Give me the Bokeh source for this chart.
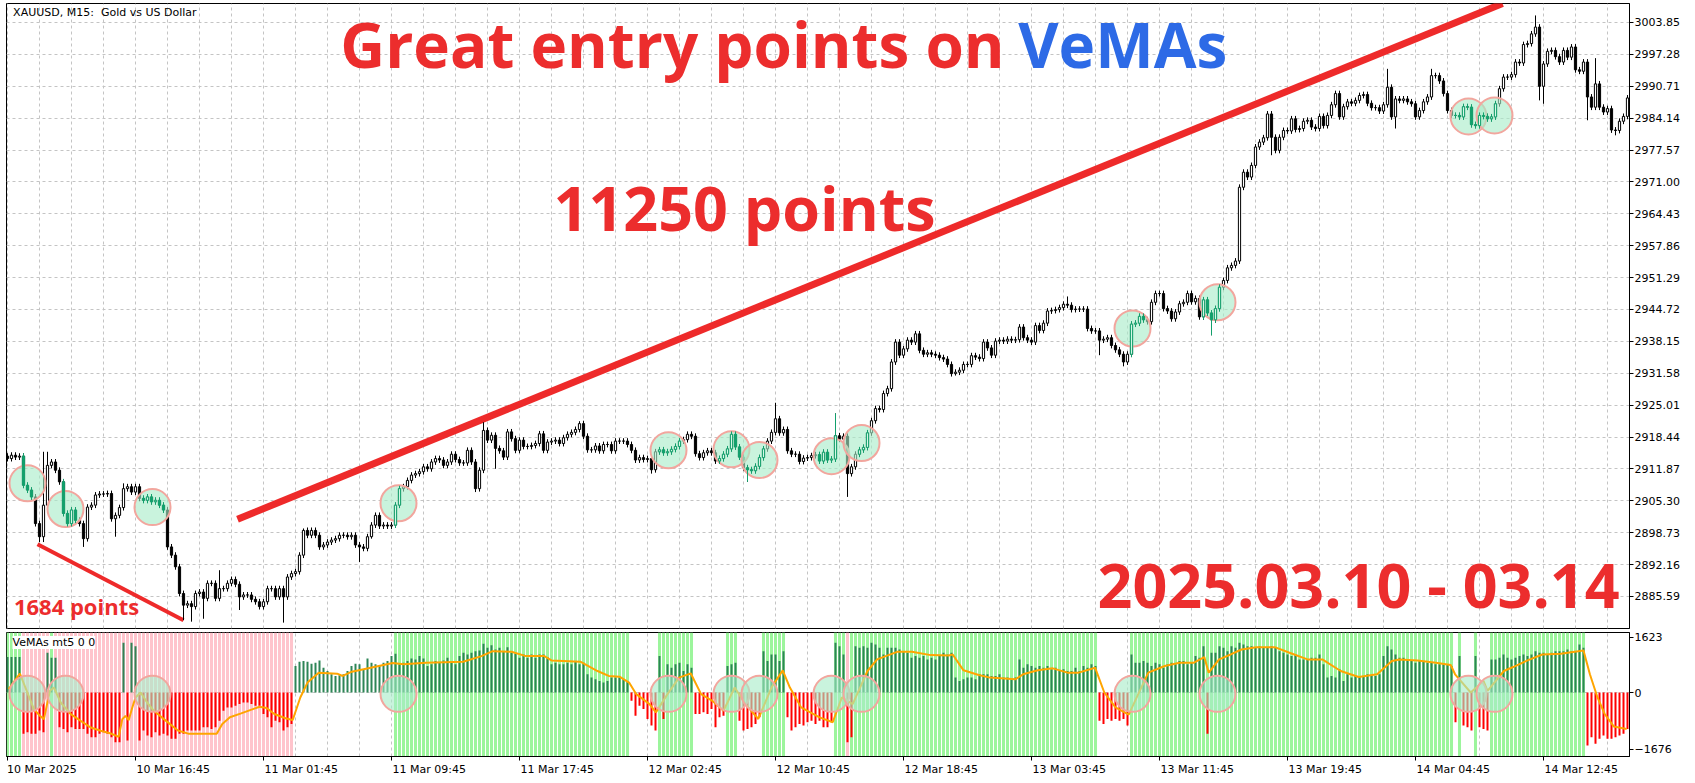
from bokeh.plotting import figure
from bokeh.models import Range1d, FixedTicker, PrintfTickFormatter, Label
from bokeh.layouts import column
from bokeh.embed import file_html
from bokeh.resources import INLINE

# ---------------- data ----------------
first_open = 2914.5
closes = [
    2914.0, 2914.7, 2914.3, 2914.5, 2908.5, 2907.5, 2906.1, 2900.6, 2897.9, 2904.4,
    2912.6, 2913.3, 2911.6, 2909.2, 2902.7, 2900.6, 2903.4, 2901.3, 2900.6, 2897.5,
    2904.0, 2904.4, 2906.5, 2906.7, 2906.7, 2906.8, 2901.6, 2902.3, 2903.9, 2907.8,
    2908.2, 2907.1, 2908.2, 2905.8, 2905.4, 2906.1, 2905.1, 2905.4, 2904.4, 2903.4,
    2895.8, 2894.1, 2891.7, 2886.2, 2883.8, 2884.1, 2883.5, 2886.2, 2886.5, 2885.2,
    2888.3, 2888.3, 2885.2, 2887.2, 2887.2, 2888.3, 2889.1, 2888.1, 2885.5, 2885.9,
    2885.9, 2885.0, 2884.5, 2883.5, 2884.5, 2887.2, 2887.2, 2885.5, 2887.2, 2885.5,
    2889.6, 2890.3, 2890.7, 2894.1, 2899.2, 2898.2, 2899.2, 2898.2, 2895.8, 2896.2,
    2896.8, 2897.2, 2897.5, 2898.2, 2898.2, 2897.9, 2898.2, 2896.2, 2895.8, 2895.5,
    2897.9, 2900.3, 2902.3, 2900.1, 2900.3, 2900.1, 2900.3, 2904.4, 2907.8, 2908.2,
    2909.5, 2910.6, 2910.9, 2911.3, 2912.3, 2911.9, 2913.3, 2914.0, 2913.7, 2912.6,
    2913.3,
    2914.9, 2913.8, 2913.1, 2913.1, 2915.7, 2913.3, 2907.8, 2911.6, 2919.8, 2917.8,
    2918.8, 2916.1, 2915.6, 2914.3, 2919.5, 2918.1, 2915.7, 2917.8, 2916.5, 2916.5,
    2916.7, 2917.1, 2919.1, 2915.7, 2917.4, 2917.6, 2917.8, 2917.1, 2918.3, 2919.0,
    2919.4, 2920.0, 2921.2, 2918.6, 2915.8, 2915.8, 2916.6, 2915.6, 2916.9, 2916.9,
    2915.6, 2917.6, 2917.6, 2917.6, 2916.9, 2915.7, 2913.7, 2914.2, 2913.8, 2914.0,
    2911.7, 2915.4, 2915.8, 2915.2, 2915.4, 2915.9, 2916.5, 2917.6, 2917.9, 2919.0,
    2918.6, 2915.0, 2914.2, 2915.2, 2915.6, 2915.2, 2913.5, 2914.0, 2914.9, 2916.0,
    2919.0, 2916.4, 2914.3, 2912.1, 2911.7, 2911.5, 2912.4, 2914.2, 2916.0, 2917.6,
    2919.4, 2922.2, 2919.3, 2920.0, 2915.6, 2914.9, 2914.9, 2913.4, 2914.1, 2914.2,
    2914.6, 2914.8, 2913.5, 2915.3, 2913.7, 2913.9, 2918.7, 2918.0, 2918.6, 2910.9,
    2912.3, 2914.9, 2915.8, 2916.3, 2919.3, 2921.8, 2924.3, 2924.1,
    2927.4, 2928.4, 2933.9, 2938.0,
    2935.3, 2936.6, 2938.4, 2938.0, 2939.7, 2936.3, 2935.5, 2935.8, 2935.5, 2935.3,
    2934.8, 2934.5, 2933.4, 2931.5, 2931.8, 2932.2, 2933.4, 2933.4, 2935.2, 2934.9,
    2934.6, 2938.0, 2936.8, 2935.3, 2938.2, 2938.4, 2938.2, 2938.6, 2938.4, 2938.5,
    2941.1, 2938.9, 2938.4, 2938.0, 2941.4, 2940.4, 2941.9, 2944.4, 2944.5, 2944.7,
    2945.1, 2945.8, 2945.6, 2944.7, 2944.8, 2944.8, 2944.8, 2940.8, 2940.3, 2940.3,
    2938.4, 2938.6, 2938.9, 2937.3, 2936.4, 2935.5, 2933.9, 2935.5, 2941.7, 2941.9,
    2943.3, 2942.6, 2942.2, 2946.2, 2948.0, 2948.0, 2944.9, 2944.4, 2942.8, 2944.2,
    2945.9, 2946.2, 2948.0, 2946.3, 2947.0, 2943.2, 2946.7, 2944.0, 2942.6, 2944.9,
    2949.3, 2950.7, 2953.3, 2953.8, 2954.7,
    2969.9, 2973.0, 2972.0, 2974.4, 2978.2, 2979.2, 2980.1, 2985.0, 2980.2, 2977.5,
    2980.2, 2981.6, 2981.5, 2984.0, 2981.8, 2982.0, 2983.5, 2983.7, 2982.3, 2982.0,
    2984.5, 2982.6, 2984.7, 2986.9, 2989.2, 2984.4, 2986.5, 2987.5, 2987.2, 2987.8,
    2988.8, 2989.0, 2987.2, 2986.3, 2986.3, 2985.6, 2986.9, 2990.5, 2984.4, 2988.1,
    2987.8, 2988.1, 2987.5, 2987.1, 2984.4, 2985.7, 2987.5, 2988.5, 2992.9, 2992.9,
    2991.8, 2989.2, 2985.7, 2984.7, 2984.7, 2984.4, 2986.5, 2986.4, 2982.8, 2982.6,
    2984.7, 2984.5, 2984.0, 2984.4, 2987.1, 2990.2, 2992.6, 2992.6, 2993.1, 2995.7,
    2995.5, 2999.3, 2999.5, 3001.5, 3002.9, 2990.7, 2995.3, 2997.9, 2998.1, 2996.8,
    2995.7, 2998.1, 2996.7, 2998.8, 2994.1, 2993.8, 2995.7, 2988.5, 2986.4, 2991.2, 2986.4,
    2985.4, 2986.1, 2981.7, 2981.6, 2983.5, 2984.5, 2988.3,
]
spike_high = {9: 2915.4, 10: 2915.4, 29: 2908.9, 53: 2891.0, 74: 2899.6, 119: 2921.5,
              143: 2921.7, 192: 2925.5, 207: 2923.3, 265: 2947.4, 333: 2989.8,
              345: 2994.3, 356: 2994.3, 382: 3005.3, 397: 2996.5}
spike_low = {8: 2896.8, 9: 2896.8, 19: 2895.8, 27: 2897.9, 44: 2880.7, 46: 2880.4,
             49: 2881.0, 58: 2882.8, 69: 2880.2, 88: 2892.7, 91: 2897.5, 117: 2907.1,
             122: 2911.9, 161: 2910.9, 185: 2909.2, 210: 2906.1, 237: 2931.1,
             273: 2935.3, 279: 2933.0, 301: 2939.4, 316: 2976.5, 347: 2982.0,
             383: 2987.8, 384: 2987.1, 395: 2983.7, 402: 2980.6}

price_ticks = [3003.85, 2997.28, 2990.71, 2984.14, 2977.57, 2971.00, 2964.43, 2957.86,
               2951.29, 2944.72, 2938.15, 2931.58, 2925.01, 2918.44, 2911.87, 2905.30,
               2898.73, 2892.16, 2885.59]
ind_ticks = [1623, 0, -1676]
time_labels = ["10 Mar 2025", "10 Mar 16:45", "11 Mar 01:45", "11 Mar 09:45",
               "11 Mar 17:45", "12 Mar 02:45", "12 Mar 10:45", "12 Mar 18:45",
               "13 Mar 03:45", "13 Mar 11:45", "13 Mar 19:45", "14 Mar 04:45",
               "14 Mar 12:45"]

# VeMAs histogram (one value per bar)
hist = [
    1044,
    1044, 1044, 1044, -1220, -1171, -1220, -1220, -1122, -1171, 1171, 1025, 1025,
    -1025, -1074, -1171, -1025, -1074, -1074, -1074, -1220, -1318, -1318, -1220, -1171,
    -1220, -1318, -1464, -1464,
    1464, -1415, 1464, 1366,
    -1415, -1122, -1269, -1318, -1171, -1269, -1220, -1269, -1366, -1366, -1220, -1220,
    -1122, -1122, -1122, -1122, -1025, -1025, -1074, -1025,
    -830, -537, -439, -439, -390, -342, -293, -293, -342, -390, -390, -634, -732, -1025,
    -830, -878, -1122, -1025, -927,
    781, 908, 927, 908, 849, 878, 947, 732, 634, 537, 488, 508, 537, 634, 781, 849, 830,
    683, 1005, 878, 830, 781, 878, 927, 1074, 1142, 830, 878, 927, 1005, 976, 1074, 1005,
    781, 830, 927, 878, 947, 1025, 878, 830, 1074, 1171, 1122, 1171, 1220, 1240, 1435,
    1318, 1396, 1269, 1318, 1220, 1337, 1171, 1142, 1025, 1122, 1025, 1122, 1025, 1122,
    1122, 1044, 830, 878, 830, 830, 878, 830, 927, 830,
    878, 537, 439, 390, 342, 293, 342, 439, 439, 439, 390, 342,
    -244, -683, -390, -488, -781, -976, -1122,
    1074, -781, 830, 732, 830, 878, 634, 830, 732,
    -634, -634, -586, -634, -488, -1025, -732, -683,
    781, 830, 878,
    -830, -1122, -1074, -1025, -927, -732,
    1220, 927, 1122, 1122, 927, 1220,
    -732, -1122, -1025, -927, -976, -878, -830, -927, -830, -1025, -1025, -878,
    1464, 1366, 1122,
    -1464, -1318,
    1366, 1318, 1366, 1318, 1464, 1415, 1318, 1122, 1318, 1318, 1318, 1269, 1220, 1171,
    1025, 1074, 1025, 1074, 976, 1025, 976, 1074, 1171, 1122, 1171,
    439, 342, 390, 439, 439, 390, 537, 537, 537, 488, 488, 537, 439, 439, 390, 439, 976,
    732, 830, 781, 732, 781, 732, 781, 683, 732, 634, 683, 634, 634, 732, 634, 781, 732,
    830, 781,
    -830, -927, -781, -830, -781, -830, -781, -976,
    1122, 878, 878, 927, 878, 781, 878, 830, 732, 830, 878, 830, 927, 927, 830, 878, 1074,
    1025, 1366,
    -1220,
    1171, 1171, 1366, 1318, 1220, 1366, 1318, 1464, 1415, 1366, 1366, 1318, 1366, 1318,
    1318, 1366, 1318, 1220, 1171, 1122, 1074, 1122, 976, 976, 976, 1025, 1025, 1122, 830,
    439, 488, 439, 683, 342, 537, 439, 488, 488, 488, 537, 488, 488, 537, 1074, 1366, 1269,
    1122, 1025, 1025, 976, 927, 878, 927, 927, 878, 878, 830, 830, 830, 830, 781,
    -878, 1074, -976, -1025, -1122, 1074, -1025, -1074, -1122,
    976, 976, 1025, 1122, 1025, 976, 1025, 1074, 1122, 1074, 1122, 1220, 1171, 1171, 1122,
    1171, 1220, 1220, 1220, 1269, 1220, 1220, 1415, 1318,
    -1562, -1318, -1513, -1366, -1269, -1366, -1366, -1318, -1269, -1220, -1074,
]

# orange signal line vertices (bar, value)
orange_bars = [0.3, 3.1, 6.6, 8.1, 9.1, 10.6, 11.6, 13.3, 15.8, 18.3, 20.8, 23.3, 25.8,
               27.8, 28.7, 29.5, 30.3, 31.2, 32.0, 33.3, 34.9, 36.6, 39.1, 42.6, 45.4,
               52.3, 53.7, 55.6, 58.4, 63.0, 64.8, 66.7, 69.5, 71.3, 73.2, 75.0, 77.8,
               82.4, 83.8, 86.1, 90.8, 96.3, 99.0, 104.6, 113.9, 118.5, 121.3, 126.0,
               129.6, 134.2, 136.0, 143.2, 147.5, 150.3, 153.0, 155.4, 157.2, 160.5,
               162.1, 165.0, 167.9, 170.8, 173.4, 176.2, 179.0, 181.8, 184.5, 187.7,
               191.0, 193.8, 195.6, 198.4, 203.0, 206.3, 208.6, 211.3, 215.0, 217.4,
               222.4, 226.1, 230.8, 235.3, 236.3, 239.0, 242.8, 245.6, 252.0, 253.9,
               257.6, 261.3, 265.0, 267.8, 271.9, 274.2, 277.0, 280.3, 285.2, 289.3,
               293.0, 296.6, 299.2, 300.3, 302.9, 305.8, 308.5, 312.2, 316.8, 320.5,
               325.0, 328.7, 333.3, 337.8, 342.4, 346.1, 348.0, 352.5, 357.1, 360.8,
               361.9, 365.8, 369.0, 370.0, 374.1, 376.4, 380.0, 383.7, 388.3, 394.0,
               395.6, 397.5, 399.3, 401.6, 404.8]
orange_vals = [98, 560, -492, -688, -786, 49, 147, -295, -639, -836, -1032, -1130, -1209,
               -1307, -786, -688, -816, -442, -147, 0, -295, -541, -786, -1122, -1220,
               -1220, -927, -732, -615, -420, -459, -634, -761, -810, -146, 293, 586,
               556, 488, 615, 732, 869, 830, 878, 908, 1074, 1220, 1200,
               1074, 1074, 947, 908, 634, 488, 468, 293, -49, -342,
               -586, -49, 439, 566, -49, -244, -537, 146, -342, -781,
               146, 654, 146, -439, -732, -878, -146, -342, 634, 976,
               1200, 1200, 1103, 1093, 1122, 654, 517, 439, 390, 537,
               654, 712, 586, 586, 732, 0, -439, -654, 586, 781,
               878, 878, 1044, 586, 976, 1122, 1269, 1337, 1337, 1171,
               976, 976, 634, 459, 537, 927, 976, 947, 878, 810,
               537, 0, 342, 49, 634, 751, 947, 1122, 1142, 1240,
               537, -146, -634, -1005, -1074]

# background shading of the indicator (inclusive bar spans)
green_bg_spans = [(0, 3), (11, 11), (97, 155), (163, 171), (180, 182), (189, 194),
                  (207, 209), (211, 272), (281, 361), (363, 363), (367, 367), (371, 394)]
pink_bg_spans = [(4, 10), (12, 71), (210, 210)]

# highlighted entry points (bar, price)
circle_bars = [5, 14.5, 36.25, 97.75, 165.25, 181, 188, 206, 213.5, 281.25, 302.5,
               365.25, 371.75]
circle_prices = [2908.9, 2903.6, 2904.0, 2904.8, 2915.7, 2915.9, 2913.7, 2914.5, 2917.2,
                 2940.8, 2946.2, 2984.5, 2984.7]

# ---------------- derived OHLC ----------------
n = len(closes)
idx = list(range(n))
opens = [first_open] + closes[:-1]
highs = [spike_high.get(i, max(opens[i], closes[i]) + 0.6) for i in idx]
lows = [spike_low.get(i, min(opens[i], closes[i]) - 0.6) for i in idx]
tops = [max(o, c) for o, c in zip(opens, closes)]
bots = [min(o, c) for o, c in zip(opens, closes)]
bull = [c >= o for o, c in zip(opens, closes)]

PX_BAR, PX_PRICE, R_IN = 4.0, 4.856, 16.0
inside = []
for i in idx:
    mid = (opens[i] + closes[i]) / 2
    hit = any(((i - cb) * PX_BAR) ** 2 + ((mid - cp) * PX_PRICE) ** 2 <= R_IN ** 2
              for cb, cp in zip(circle_bars, circle_prices))
    inside.append(hit)

W = 1690
GRID = "#c4c4c4"
RED = "#ec2d2d"
FONT = "DejaVu Sans"
X_RANGE = Range1d(-0.25, 405.5)

# ---------------- main price panel ----------------
p1 = figure(width=W, height=631, x_range=X_RANGE,
            y_range=Range1d(2878.99, 3007.76), output_backend="svg",
            toolbar_location=None, x_axis_location=None, y_axis_location="right",
            min_border_left=6, min_border_right=61, min_border_top=3, min_border_bottom=3)
p1.outline_line_color = "black"
p1.background_fill_color = "white"
p1.border_fill_color = "white"
p1.xgrid.ticker = FixedTicker(ticks=list(range(0, 406, 8)))
p1.ygrid.ticker = FixedTicker(ticks=price_ticks)
for g in (p1.xgrid, p1.ygrid):
    g.grid_line_color = GRID
    g.grid_line_dash = "3 3"
ax = p1.yaxis[0]
ax.ticker = FixedTicker(ticks=price_ticks)
ax.formatter = PrintfTickFormatter(format="%.2f")
ax.major_tick_in = 0
ax.major_tick_out = 4
ax.minor_tick_out = 0
ax.minor_tick_in = 0
ax.major_label_standoff = 1
ax.major_label_text_font = FONT
ax.major_label_text_font_size = "11px"
ax.major_label_text_color = "black"
ax.axis_line_color = "black"
ax.major_tick_line_color = "black"

# trend lines
p1.line([57.5, 373.75], [2901.5, 3007.76], color="#ee2a2a", line_width=7)
p1.line([7.5, 44], [2896.35, 2880.7], color="#ee2a2a", line_width=4)

# candles
p1.segment(x0=idx, y0=lows, x1=idx, y1=highs, color="black", line_width=1)
p1.vbar(x=idx, width=0.55, top=tops, bottom=bots,
        fill_color=["white" if b else "black" for b in bull],
        line_color="black", line_width=1)

# entry circles
p1.scatter(x=circle_bars, y=circle_prices, size=36, marker="circle",
           fill_color="#a8ecc8", fill_alpha=0.62, line_color="#f2a69e", line_width=2)
gi = [i for i in idx if inside[i]]
GREEN_C = "#12a06c"
p1.segment(x0=gi, y0=[lows[i] for i in gi], x1=gi, y1=[highs[i] for i in gi],
           color=GREEN_C, line_width=1)
p1.vbar(x=gi, width=0.55, top=[tops[i] for i in gi], bottom=[bots[i] for i in gi],
        fill_color=["#d4f7e6" if bull[i] else GREEN_C for i in gi],
        line_color=GREEN_C, line_width=1)

# texts (text_baseline middle; y is the visual centre of the em box)
def add_text(x, y, text, size, color, font="Open Sans", style="bold"):
    p1.add_layout(Label(x=x, y=y, text=text, text_font=font, text_font_style=style,
                        text_font_size=size, text_color=color, text_baseline="middle"))

add_text(1.4, 3005.9, "XAUUSD, M15:\u00a0 Gold vs US Dollar", "11px", "black", FONT, "normal")
add_text(83.2, 2999.4, "Great entry points on ", "62px", RED)
add_text(252.7, 2999.4, "VeMAs", "62px", "#2d6ae6")
add_text(136.5, 2965.7, "11250 points", "61px", RED)
add_text(272.5, 2888.0, "2025.03.10 - 03.14", "61px", RED)
add_text(1.6, 2883.6, "1684 points", "22px", RED)

# ---------------- indicator panel ----------------
p2 = figure(width=W, height=149, x_range=X_RANGE, y_range=Range1d(-1888, 1770),
            output_backend="svg", toolbar_location=None, y_axis_location="right",
            min_border_left=6, min_border_right=61, min_border_top=1, min_border_bottom=24)
p2.outline_line_color = "black"
p2.xgrid.ticker = FixedTicker(ticks=list(range(0, 406, 8)))
p2.ygrid.ticker = FixedTicker(ticks=[0])
for g in (p2.xgrid, p2.ygrid):
    g.grid_line_color = GRID
    g.grid_line_dash = "3 3"

gx, px = [], []
for a, b in green_bg_spans:
    gx += list(range(a, b + 1))
for a, b in pink_bg_spans:
    px += list(range(a, b + 1))
p2.vbar(x=gx, width=0.75, top=1770, bottom=-1888, fill_color="#9cf59c", line_color=None)
p2.vbar(x=px, width=0.75, top=1770, bottom=-1888, fill_color="#ffc4cc", line_color=None)
p2.vbar(x=list(range(len(hist))), width=0.5, top=hist, bottom=0,
        fill_color=["#2e8557" if v > 0 else "#ff0000" for v in hist], line_color=None)
p2.line(orange_bars, orange_vals, color="#ffa500", line_width=2)
p2.scatter(x=circle_bars, y=[-40] * len(circle_bars), size=36, marker="circle",
           fill_color="#a8ecc8", fill_alpha=0.62, line_color="#f2a69e", line_width=2)
p2.add_layout(Label(x=1.25, y=1475, text="VeMAs mt5 0 0", text_font=FONT,
                    text_font_size="11px", text_color="black", text_baseline="middle",
                    background_fill_color="white"))

ay = p2.yaxis[0]
ay.ticker = FixedTicker(ticks=ind_ticks)
ay.major_tick_in = 0
ay.major_tick_out = 4
ay.minor_tick_out = 0
ay.minor_tick_in = 0
ay.major_label_standoff = 1
ay.major_label_text_font = FONT
ay.major_label_text_font_size = "11px"
ay.major_label_text_color = "black"

tick_bars = [32 * k for k in range(len(time_labels))]
half_w = [(len(t) * 0.6 - 0.35) * 11 / 2 / PX_BAR for t in time_labels]
label_pos = [tb + hw for tb, hw in zip(tick_bars, half_w)]
axx = p2.xaxis[0]
axx.ticker = FixedTicker(ticks=label_pos, minor_ticks=tick_bars)
axx.major_label_overrides = {pos: t for pos, t in zip(label_pos, time_labels)}
axx.major_tick_out = 0
axx.major_tick_in = 0
axx.minor_tick_out = 4
axx.minor_tick_in = 0
axx.minor_tick_line_color = "black"
axx.major_label_standoff = 2
axx.major_label_text_font = FONT
axx.major_label_text_font_size = "11px"
axx.major_label_text_color = "black"

layout = column(p1, p2, spacing=0)
open("out.html", "w").write(file_html(layout, INLINE))
